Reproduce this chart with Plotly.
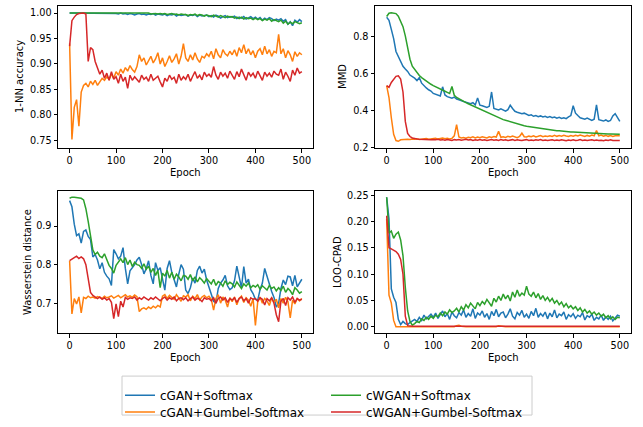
import plotly.graph_objects as go

EPOCHS = list(range(0, 501, 5))

SERIES_NAMES = ["cGAN+Softmax", "cGAN+Gumbel-Softmax", "cWGAN+Softmax", "cWGAN+Gumbel-Softmax"]
COLORS = ["#1f77b4", "#ff7f0e", "#2ca02c", "#d62728"]

# ---------------- 1-NN accuracy ----------------
NN_BLUE = [
    1.000, 1.000, 1.000, 1.000, 1.000, 1.000, 1.000, 1.000, 1.000, 1.000,
    1.000, 1.000, 1.000, 1.000, 0.999, 1.000, 1.000, 0.999, 1.000, 0.999,
    0.999, 0.998, 1.000, 0.998, 0.999, 0.997, 0.999, 0.998, 0.996, 0.998,
    0.999, 0.997, 0.998, 0.996, 0.998, 0.997, 0.999, 0.996, 0.998, 0.997,
    0.996, 0.998, 0.995, 0.997, 0.996, 0.998, 0.994, 0.997, 0.995, 0.996,
    0.997, 0.994, 0.996, 0.995, 0.997, 0.993, 0.996, 0.994, 0.995, 0.996,
    0.993, 0.995, 0.992, 0.996, 0.994, 0.990, 0.993, 0.995, 0.991, 0.993,
    0.992, 0.994, 0.989, 0.992, 0.990, 0.993, 0.988, 0.991, 0.993, 0.989,
    0.992, 0.988, 0.991, 0.986, 0.990, 0.987, 0.991, 0.989, 0.985, 0.988,
    0.986, 0.989, 0.984, 0.987, 0.978, 0.983, 0.975, 0.986, 0.982, 0.987,
    0.983]
NN_ORANGE = [
    0.940, 0.752, 0.815, 0.830, 0.778, 0.845, 0.858, 0.862, 0.855, 0.866,
    0.860, 0.868, 0.858, 0.865, 0.872, 0.868, 0.875, 0.870, 0.880, 0.872,
    0.885, 0.878, 0.890, 0.882, 0.893, 0.886, 0.897, 0.889, 0.884, 0.895,
    0.918, 0.905, 0.912, 0.898, 0.908, 0.915, 0.902, 0.910, 0.922, 0.900,
    0.912, 0.895, 0.905, 0.916, 0.903, 0.910, 0.920, 0.900, 0.915, 0.940,
    0.912, 0.905, 0.918, 0.908, 0.922, 0.910, 0.903, 0.915, 0.912, 0.920,
    0.915, 0.925, 0.910, 0.930, 0.918, 0.912, 0.928, 0.920, 0.916, 0.925,
    0.918, 0.928, 0.915, 0.932, 0.922, 0.938, 0.920, 0.930, 0.918, 0.926,
    0.912, 0.925, 0.930, 0.918, 0.935, 0.920, 0.928, 0.915, 0.925, 0.922,
    0.958, 0.920, 0.930, 0.912, 0.926, 0.918, 0.905, 0.924, 0.915, 0.922,
    0.918]
NN_GREEN = [
    1.000, 1.000, 1.000, 1.000, 1.000, 1.000, 1.000, 1.000, 1.000, 1.000,
    1.000, 1.000, 1.000, 1.000, 1.000, 1.000, 1.000, 1.000, 1.000, 1.000,
    1.000, 1.000, 0.999, 1.000, 1.000, 0.999, 1.000, 1.000, 0.999, 1.000,
    0.999, 1.000, 0.999, 0.999, 1.000, 0.998, 0.999, 0.999, 0.998, 0.999,
    0.998, 0.999, 0.997, 0.998, 0.999, 0.997, 0.998, 0.996, 0.998, 0.997,
    0.997, 0.995, 0.997, 0.996, 0.998, 0.995, 0.997, 0.996, 0.994, 0.996,
    0.995, 0.993, 0.996, 0.994, 0.992, 0.995, 0.993, 0.991, 0.994, 0.992,
    0.993, 0.990, 0.992, 0.989, 0.992, 0.988, 0.991, 0.989, 0.990, 0.987,
    0.990, 0.987, 0.989, 0.985, 0.988, 0.986, 0.989, 0.984, 0.987, 0.985,
    0.983, 0.986, 0.980, 0.984, 0.978, 0.982, 0.979, 0.983, 0.981, 0.979,
    0.981]
NN_RED = [
    0.935, 0.985, 0.992, 0.997, 0.999, 1.000, 1.000, 0.998, 0.905, 0.932,
    0.928, 0.905, 0.893, 0.880, 0.888, 0.872, 0.882, 0.868, 0.885, 0.870,
    0.875, 0.862, 0.880, 0.866, 0.874, 0.852, 0.878, 0.868, 0.875, 0.870,
    0.864, 0.878, 0.870, 0.874, 0.866, 0.880, 0.868, 0.872, 0.876, 0.865,
    0.855, 0.872, 0.866, 0.878, 0.870, 0.874, 0.862, 0.880, 0.868, 0.875,
    0.870, 0.880, 0.866, 0.876, 0.885, 0.872, 0.878, 0.869, 0.884, 0.876,
    0.880, 0.874, 0.895, 0.878, 0.870, 0.884, 0.876, 0.882, 0.872, 0.886,
    0.878, 0.870, 0.885, 0.875, 0.890, 0.880, 0.868, 0.884, 0.876, 0.882,
    0.872, 0.886, 0.878, 0.868, 0.884, 0.876, 0.882, 0.874, 0.886, 0.880,
    0.878, 0.890, 0.870, 0.884, 0.876, 0.866, 0.888, 0.878, 0.892, 0.882,
    0.885]

# ---------------- MMD ----------------
MMD_BLUE = [
    0.906, 0.890, 0.840, 0.790, 0.720, 0.690, 0.662, 0.640, 0.625, 0.612,
    0.592, 0.585, 0.575, 0.562, 0.578, 0.548, 0.532, 0.522, 0.512, 0.505,
    0.492, 0.488, 0.482, 0.478, 0.528, 0.484, 0.475, 0.470, 0.466, 0.472,
    0.462, 0.458, 0.452, 0.448, 0.445, 0.440, 0.436, 0.442, 0.430, 0.468,
    0.428, 0.425, 0.420, 0.416, 0.422, 0.500, 0.410, 0.405, 0.402, 0.408,
    0.400, 0.396, 0.404, 0.428, 0.410, 0.395, 0.390, 0.386, 0.382, 0.385,
    0.378, 0.372, 0.376, 0.368, 0.372, 0.366, 0.370, 0.364, 0.368, 0.362,
    0.366, 0.360, 0.364, 0.358, 0.362, 0.356, 0.360, 0.355, 0.365, 0.372,
    0.425, 0.385, 0.372, 0.360, 0.356, 0.352, 0.358, 0.350, 0.346, 0.352,
    0.430, 0.350, 0.346, 0.342, 0.348, 0.340, 0.345, 0.370, 0.382, 0.360,
    0.340]
MMD_ORANGE = [
    0.535, 0.470, 0.360, 0.270, 0.236, 0.232, 0.240, 0.242, 0.240, 0.243,
    0.242, 0.245, 0.243, 0.246, 0.242, 0.245, 0.244, 0.247, 0.243, 0.246,
    0.245, 0.248, 0.244, 0.247, 0.250, 0.246, 0.249, 0.245, 0.248, 0.262,
    0.322, 0.255, 0.250, 0.253, 0.249, 0.254, 0.251, 0.256, 0.250, 0.255,
    0.252, 0.257, 0.254, 0.250, 0.256, 0.253, 0.258, 0.255, 0.286, 0.254,
    0.257, 0.253, 0.259, 0.255, 0.260, 0.256, 0.252, 0.258, 0.276, 0.257,
    0.255, 0.260, 0.257, 0.262, 0.256, 0.259, 0.263, 0.257, 0.261, 0.258,
    0.262, 0.258, 0.264, 0.259, 0.263, 0.260, 0.265, 0.261, 0.258, 0.263,
    0.260, 0.265, 0.261, 0.266, 0.262, 0.258, 0.264, 0.260, 0.266, 0.262,
    0.290, 0.262, 0.266, 0.260, 0.264, 0.259, 0.263, 0.258, 0.262, 0.260,
    0.262]
MMD_GREEN = [
    0.910, 0.928, 0.931, 0.930, 0.926, 0.912, 0.882, 0.855, 0.805, 0.730,
    0.678, 0.640, 0.622, 0.603, 0.590, 0.578, 0.568, 0.558, 0.550, 0.542,
    0.535, 0.528, 0.522, 0.516, 0.510, 0.504, 0.498, 0.492, 0.530, 0.482,
    0.470, 0.462, 0.455, 0.448, 0.442, 0.436, 0.430, 0.424, 0.418, 0.412,
    0.410, 0.402, 0.395, 0.388, 0.382, 0.376, 0.370, 0.364, 0.360, 0.355,
    0.350, 0.346, 0.342, 0.337, 0.333, 0.330, 0.326, 0.323, 0.320, 0.317,
    0.314, 0.312, 0.309, 0.307, 0.305, 0.303, 0.301, 0.299, 0.297, 0.296,
    0.294, 0.293, 0.291, 0.290, 0.289, 0.287, 0.286, 0.285, 0.284, 0.283,
    0.283, 0.282, 0.281, 0.280, 0.279, 0.279, 0.278, 0.277, 0.277, 0.276,
    0.275, 0.275, 0.274, 0.273, 0.273, 0.272, 0.272, 0.271, 0.271, 0.270,
    0.270]
MMD_RED = [
    0.535, 0.525, 0.552, 0.572, 0.585, 0.588, 0.570, 0.500, 0.340, 0.275,
    0.258, 0.250, 0.246, 0.244, 0.243, 0.242, 0.244, 0.241, 0.243, 0.240,
    0.242, 0.240, 0.243, 0.239, 0.241, 0.238, 0.242, 0.240, 0.237, 0.241,
    0.239, 0.242, 0.238, 0.240, 0.243, 0.239, 0.241, 0.237, 0.240, 0.238,
    0.241, 0.238, 0.240, 0.236, 0.239, 0.242, 0.238, 0.240, 0.237, 0.241,
    0.238, 0.240, 0.236, 0.239, 0.241, 0.237, 0.240, 0.238, 0.236, 0.239,
    0.241, 0.237, 0.239, 0.236, 0.240, 0.238, 0.241, 0.237, 0.239, 0.236,
    0.238, 0.240, 0.237, 0.239, 0.236, 0.240, 0.238, 0.235, 0.239, 0.237,
    0.240, 0.236, 0.238, 0.241, 0.237, 0.239, 0.236, 0.238, 0.240, 0.237,
    0.239, 0.236, 0.238, 0.235, 0.239, 0.237, 0.240, 0.236, 0.238, 0.237,
    0.236]

# ---------------- Wasserstein distance ----------------
WD_BLUE = [
    0.966, 0.950, 0.905, 0.875, 0.880, 0.856, 0.886, 0.890, 0.873, 0.865,
    0.820, 0.826, 0.812, 0.789, 0.805, 0.780, 0.770, 0.763, 0.746, 0.839,
    0.828, 0.815, 0.822, 0.844, 0.790, 0.750, 0.784, 0.792, 0.800, 0.812,
    0.819, 0.800, 0.776, 0.790, 0.810, 0.772, 0.750, 0.805, 0.785, 0.792,
    0.760, 0.734, 0.790, 0.810, 0.780, 0.762, 0.742, 0.775, 0.800, 0.788,
    0.734, 0.725, 0.740, 0.765, 0.752, 0.785, 0.796, 0.778, 0.788, 0.760,
    0.742, 0.722, 0.705, 0.700, 0.738, 0.752, 0.760, 0.772, 0.745, 0.735,
    0.740, 0.758, 0.796, 0.768, 0.740, 0.795, 0.752, 0.762, 0.735, 0.725,
    0.710, 0.708, 0.735, 0.752, 0.790, 0.770, 0.748, 0.730, 0.715, 0.690,
    0.700, 0.738, 0.760, 0.748, 0.770, 0.768, 0.745, 0.772, 0.742, 0.752,
    0.762]
WD_ORANGE = [
    0.810, 0.672, 0.712, 0.698, 0.716, 0.675, 0.715, 0.712, 0.718, 0.714,
    0.716, 0.713, 0.717, 0.715, 0.712, 0.718, 0.714, 0.716, 0.719, 0.713,
    0.717, 0.720, 0.714, 0.718, 0.722, 0.716, 0.719, 0.715, 0.721, 0.717,
    0.678, 0.685, 0.688, 0.684, 0.690, 0.686, 0.692, 0.688, 0.694, 0.690,
    0.718, 0.722, 0.712, 0.720, 0.716, 0.710, 0.722, 0.714, 0.705, 0.719,
    0.716, 0.722, 0.706, 0.718, 0.712, 0.722, 0.708, 0.716, 0.720, 0.714,
    0.718, 0.710, 0.682, 0.712, 0.722, 0.700, 0.716, 0.708, 0.690, 0.714,
    0.704, 0.716, 0.696, 0.712, 0.718, 0.702, 0.714, 0.708, 0.692, 0.712,
    0.642, 0.704, 0.716, 0.700, 0.712, 0.706, 0.694, 0.714, 0.702, 0.710,
    0.688, 0.712, 0.700, 0.715, 0.704, 0.662, 0.708, 0.698, 0.712, 0.706,
    0.712]
WD_GREEN = [
    0.972, 0.975, 0.975, 0.974, 0.973, 0.972, 0.968, 0.945, 0.912, 0.875,
    0.838, 0.826, 0.832, 0.822, 0.818, 0.828, 0.812, 0.798, 0.790, 0.778,
    0.798, 0.808, 0.815, 0.805, 0.818, 0.800, 0.812, 0.795, 0.806, 0.800,
    0.798, 0.790, 0.802, 0.788, 0.796, 0.780, 0.790, 0.772, 0.785, 0.740,
    0.778, 0.770, 0.785, 0.765, 0.780, 0.762, 0.775, 0.768, 0.758, 0.772,
    0.770, 0.762, 0.774, 0.758, 0.768, 0.755, 0.766, 0.760, 0.752, 0.764,
    0.758, 0.750, 0.762, 0.746, 0.756, 0.752, 0.744, 0.758, 0.748, 0.754,
    0.750, 0.742, 0.755, 0.745, 0.738, 0.750, 0.744, 0.752, 0.740, 0.746,
    0.742, 0.748, 0.736, 0.745, 0.740, 0.734, 0.746, 0.738, 0.742, 0.732,
    0.740, 0.733, 0.744, 0.728, 0.738, 0.732, 0.722, 0.740, 0.734, 0.726,
    0.730]
WD_RED = [
    0.810, 0.815, 0.818, 0.822, 0.816, 0.820, 0.815, 0.800, 0.760, 0.728,
    0.720, 0.715, 0.712, 0.716, 0.710, 0.714, 0.708, 0.712, 0.702, 0.660,
    0.698, 0.665, 0.705, 0.690, 0.715, 0.710, 0.714, 0.712, 0.716, 0.708,
    0.714, 0.710, 0.716, 0.712, 0.708, 0.714, 0.710, 0.716, 0.712, 0.706,
    0.712, 0.716, 0.708, 0.714, 0.710, 0.716, 0.706, 0.712, 0.714, 0.709,
    0.714, 0.706, 0.712, 0.716, 0.708, 0.713, 0.710, 0.704, 0.714, 0.710,
    0.712, 0.706, 0.714, 0.700, 0.712, 0.716, 0.708, 0.714, 0.702, 0.712,
    0.708, 0.714, 0.702, 0.712, 0.716, 0.706, 0.712, 0.700, 0.714, 0.710,
    0.712, 0.705, 0.714, 0.710, 0.695, 0.712, 0.706, 0.714, 0.700, 0.670,
    0.652, 0.705, 0.712, 0.694, 0.714, 0.708, 0.716, 0.702, 0.712, 0.708,
    0.710]

# ---------------- LOO-CPAD ----------------
LOO_BLUE = [
    0.246, 0.205, 0.072, 0.056, 0.046, 0.014, 0.004, 0.010, 0.006, 0.004,
    0.008, 0.011, 0.014, 0.010, 0.018, 0.012, 0.022, 0.015, 0.020, 0.024,
    0.018, 0.026, 0.016, 0.022, 0.030, 0.019, 0.025, 0.014, 0.028, 0.021,
    0.017, 0.027, 0.022, 0.032, 0.018, 0.025, 0.020, 0.034, 0.016, 0.026,
    0.022, 0.030, 0.018, 0.025, 0.014, 0.029, 0.021, 0.033, 0.019, 0.026,
    0.028, 0.017, 0.024, 0.034, 0.020, 0.015, 0.027, 0.022, 0.031, 0.018,
    0.024, 0.016, 0.029, 0.021, 0.035, 0.018, 0.025, 0.020, 0.028, 0.015,
    0.026, 0.019, 0.032, 0.017, 0.024, 0.021, 0.028, 0.014, 0.023, 0.019,
    0.025, 0.016, 0.022, 0.019, 0.027, 0.013, 0.021, 0.018, 0.024, 0.012,
    0.018, 0.015, 0.022, 0.012, 0.019, 0.014, 0.020, 0.011, 0.017, 0.022,
    0.020]
LOO_ORANGE = [
    0.205, 0.060, 0.045, 0.012, 0.000, 0.000, 0.000, 0.000, 0.000, 0.000,
    0.000, 0.000, 0.000, 0.000, 0.000, 0.000, 0.000, 0.000, 0.000, 0.000,
    0.000, 0.000, 0.000, 0.000, 0.000, 0.000, 0.000, 0.000, 0.000, 0.000,
    0.002, 0.003, 0.001, 0.000, 0.000, 0.000, 0.000, 0.000, 0.000, 0.000,
    0.000, 0.000, 0.000, 0.000, 0.000, 0.000, 0.000, 0.000, 0.002, 0.001,
    0.000, 0.000, 0.000, 0.000, 0.000, 0.000, 0.000, 0.000, 0.000, 0.000,
    0.000, 0.000, 0.000, 0.000, 0.000, 0.000, 0.000, 0.000, 0.000, 0.000,
    0.000, 0.000, 0.000, 0.000, 0.000, 0.000, 0.001, 0.000, 0.000, 0.000,
    0.000, 0.000, 0.000, 0.000, 0.000, 0.000, 0.000, 0.000, 0.000, 0.000,
    0.000, 0.000, 0.000, 0.000, 0.000, 0.000, 0.000, 0.000, 0.000, 0.000,
    0.000]
LOO_GREEN = [
    0.246, 0.178, 0.182, 0.168, 0.176, 0.180, 0.165, 0.135, 0.075, 0.030,
    0.010, 0.003, 0.006, 0.010, 0.008, 0.015, 0.012, 0.018, 0.014, 0.020,
    0.016, 0.022, 0.019, 0.026, 0.021, 0.028, 0.024, 0.032, 0.027, 0.030,
    0.035, 0.028, 0.038, 0.032, 0.042, 0.036, 0.045, 0.039, 0.034, 0.046,
    0.040, 0.048, 0.043, 0.052, 0.045, 0.039, 0.054, 0.047, 0.058, 0.050,
    0.062, 0.053, 0.060, 0.049, 0.066, 0.056, 0.070, 0.058, 0.064, 0.060,
    0.077, 0.062, 0.058, 0.066, 0.055, 0.063, 0.052, 0.059, 0.050, 0.056,
    0.048, 0.054, 0.045, 0.050, 0.042, 0.047, 0.038, 0.044, 0.036, 0.040,
    0.034, 0.038, 0.031, 0.036, 0.028, 0.033, 0.026, 0.030, 0.024, 0.028,
    0.022, 0.026, 0.020, 0.024, 0.017, 0.021, 0.015, 0.019, 0.014, 0.018,
    0.017]
LOO_RED = [
    0.211, 0.150, 0.148, 0.146, 0.143, 0.138, 0.128, 0.100, 0.020, 0.002,
    0.001, 0.001, 0.001, 0.001, 0.001, 0.001, 0.001, 0.001, 0.001, 0.001,
    0.001, 0.001, 0.001, 0.001, 0.001, 0.001, 0.001, 0.001, 0.001, 0.001,
    0.001, 0.001, 0.002, 0.001, 0.001, 0.001, 0.001, 0.001, 0.001, 0.001,
    0.001, 0.001, 0.001, 0.001, 0.001, 0.001, 0.001, 0.001, 0.001, 0.001,
    0.001, 0.001, 0.001, 0.001, 0.001, 0.001, 0.001, 0.001, 0.001, 0.001,
    0.001, 0.001, 0.001, 0.001, 0.001, 0.001, 0.001, 0.001, 0.001, 0.001,
    0.001, 0.001, 0.001, 0.001, 0.001, 0.001, 0.001, 0.001, 0.001, 0.001,
    0.001, 0.001, 0.001, 0.001, 0.001, 0.001, 0.001, 0.001, 0.001, 0.001,
    0.001, 0.001, 0.001, 0.001, 0.001, 0.001, 0.001, 0.001, 0.001, 0.001,
    0.001]

PANELS = [
    ("1-NN accuracy", [NN_BLUE, NN_ORANGE, NN_GREEN, NN_RED]),
    ("MMD", [MMD_BLUE, MMD_ORANGE, MMD_GREEN, MMD_RED]),
    ("Wasserstein distance", [WD_BLUE, WD_ORANGE, WD_GREEN, WD_RED]),
    ("LOO-CPAD", [LOO_BLUE, LOO_ORANGE, LOO_GREEN, LOO_RED]),
]
X_TICKS = [0, 100, 200, 300, 400, 500]
Y_TICKS = [
    [0.75, 0.80, 0.85, 0.90, 0.95, 1.00],
    [0.2, 0.4, 0.6, 0.8],
    [0.7, 0.8, 0.9],
    [0.00, 0.05, 0.10, 0.15, 0.20, 0.25],
]
Y_FORMATS = [".2f", ".1f", ".1f", ".2f"]
Y_RANGES = [[0.735, 1.014], [0.195, 0.968], [0.622, 0.991], [-0.0123, 0.258]]

W, H = 643, 427
FONT = "DejaVu Sans"

# pixel boxes of the four axes (left, right, top, bottom)
BOXES = [(58, 313, 5, 151), (375, 631, 5, 151), (58, 313, 195, 341), (375, 631, 195, 341)]

fig = go.Figure()
layout = dict(
    width=W, height=H,
    margin=dict(l=0, r=0, t=0, b=0),
    paper_bgcolor="white", plot_bgcolor="white",
    font=dict(family=FONT, size=10, color="black"),
    showlegend=True,
    annotations=[], shapes=[],
)

LEGEND_IDS = ["legend", "legend3", "legend2", "legend4"]

for i, (ylabel, series) in enumerate(PANELS):
    n = "" if i == 0 else str(i + 1)
    l, r, t, b = BOXES[i]
    xd = [l / W, r / W]
    yd = [1 - b / H, 1 - t / H]
    axis_common = dict(
        showgrid=False, zeroline=False, showline=True, linecolor="black", linewidth=1,
        mirror=True, ticks="outside", ticklen=3.5, tickwidth=1, tickcolor="black",
        tickfont=dict(family=FONT, size=9.7, color="black"),
    )
    layout["xaxis" + n] = dict(axis_common, domain=xd, range=[-25, 524], tickvals=X_TICKS,
                               anchor="y" + n)
    layout["yaxis" + n] = dict(axis_common, domain=yd, range=Y_RANGES[i], tickvals=Y_TICKS[i],
                               tickformat=Y_FORMATS[i], anchor="x" + n)
    for k, vals in enumerate(series):
        fig.add_trace(go.Scatter(
            x=EPOCHS, y=vals, mode="lines", name=SERIES_NAMES[k],
            line=dict(color=COLORS[k], width=1.5),
            xaxis="x" + n, yaxis="y" + n,
            showlegend=(i == 0),
            legend=LEGEND_IDS[k],
        ))
    # axis titles
    layout["annotations"].append(dict(
        text="Epoch", x=(l + r) / 2 / W, y=1 - (b + 25) / H, xref="paper", yref="paper",
        xanchor="center", yanchor="middle", showarrow=False, font=dict(size=10)))
    ylab_x = {0: 20, 1: 343, 2: 27, 3: 337}[i]
    layout["annotations"].append(dict(
        text=ylabel, x=ylab_x / W, y=1 - (t + b) / 2 / H, xref="paper", yref="paper",
        xanchor="center", yanchor="middle", showarrow=False, textangle=-90, font=dict(size=10)))

# legend frame
layout["shapes"].append(dict(
    type="rect", xref="paper", yref="paper",
    x0=122 / W, x1=532 / W, y0=1 - 425 / H, y1=1 - 385 / H,
    line=dict(color="#cccccc", width=1), fillcolor="rgba(255,255,255,0.8)", layer="below"))

leg_common = dict(orientation="v", bgcolor="rgba(0,0,0,0)", borderwidth=0,
                  font=dict(family=FONT, size=12, color="black"),
                  xanchor="left", yanchor="top", tracegroupgap=0, itemwidth=30)
# legend placement: (left px, top px) for each entry
LEG_POS = {"legend": (120, 389.7), "legend3": (120, 407), "legend2": (326, 389.7), "legend4": (326, 407)}
for lid, (px, py) in LEG_POS.items():
    layout[lid] = dict(leg_common, x=px / W, y=1 - py / H)

fig.update_layout(**layout)
fig.write_html("out.html", config={"displayModeBar": False},
               post_script="document.body.style.margin='0px';")
